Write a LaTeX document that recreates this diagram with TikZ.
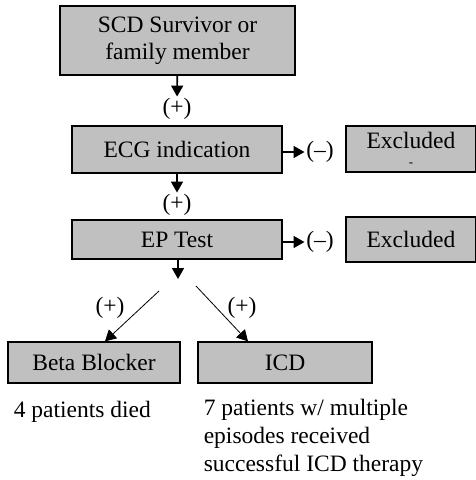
\documentclass[tikz,border=0pt]{standalone}
\usepackage{fontspec}
\setmainfont{Liberation Serif}
\usetikzlibrary{arrows.meta,positioning}
\definecolor{boxgray}{HTML}{C0C0C0}

\begin{document}
\begin{tikzpicture}[x=1pt,y=-1pt,>={Triangle[width=12pt,length=11pt]},line width=1.6pt,
    font=\fontsize{23.5}{27}\selectfont,
    box node/.style={draw,fill=boxgray,inner sep=0pt,line width=1.3pt,align=center},
    sign node/.style={inner sep=1pt},
    note node/.style={inner sep=0pt,align=left,font=\fontsize{23.5}{28}\selectfont}]
    \useasboundingbox (0,0) rectangle (475,480);

    % boxes
    \node[box node,minimum width=235pt,minimum height=69pt] (scd) at (177.5,40.5) {SCD Survivor or\\family member};
    \node[box node,minimum width=210pt,minimum height=47pt] (ecg) at (177,149.5) {ECG indication};
    \node[box node,minimum width=210pt,minimum height=39pt] (ep) at (177,239.5) {EP Test};
    \node[box node,minimum width=130pt,minimum height=46pt] (ex1) at (411,149) {Excluded\\[-9pt]{\fontsize{13}{8}\selectfont -}};
    \node[box node,minimum width=130pt,minimum height=45pt] (ex2) at (411,239.5) {Excluded};
    \node[box node,minimum width=172pt,minimum height=41pt] (beta) at (94,362.5) {Beta Blocker};
    \node[box node,minimum width=174pt,minimum height=41pt] (icd) at (285,362.5) {ICD};

    % signs
    \node[sign node] (p1) at (177,109) {(+)};
    \node[sign node] (p2) at (177,205) {(+)};
    \node[sign node] (m1) at (320,152) {(\textendash)};
    \node[sign node] (m2) at (320,242) {(\textendash)};
    \node[sign node] (p3) at (110,308) {(+)};
    \node[sign node] (p4) at (242,308) {(+)};

    \coordinate (epend) at (178,279);
    \coordinate (l0) at (159,291);
    \coordinate (r0) at (196,286);

    \draw[->] (scd) -- (p1);
    \draw[->] (ecg) -- (p2);
    \draw[->] (ep.south -| epend) -- (epend);
    \draw[->] (ecg.east |- m1) -- (m1);
    \draw[->] (ep.east |- m2) -- (m2);
    \draw[->,line width=0.8pt] (l0) -- ([xshift=11pt]beta.north);
    \draw[->,line width=0.8pt] (r0) -- ([xshift=-37pt]icd.north);

    % notes
    \node[note node,anchor=base west] (died) at (13,417) {4 patients died};
    \node[note node,anchor=north west] (saved) at (203,398) {7 patients w/ multiple\\episodes received\\successful ICD therapy};
\end{tikzpicture}
\end{document}
